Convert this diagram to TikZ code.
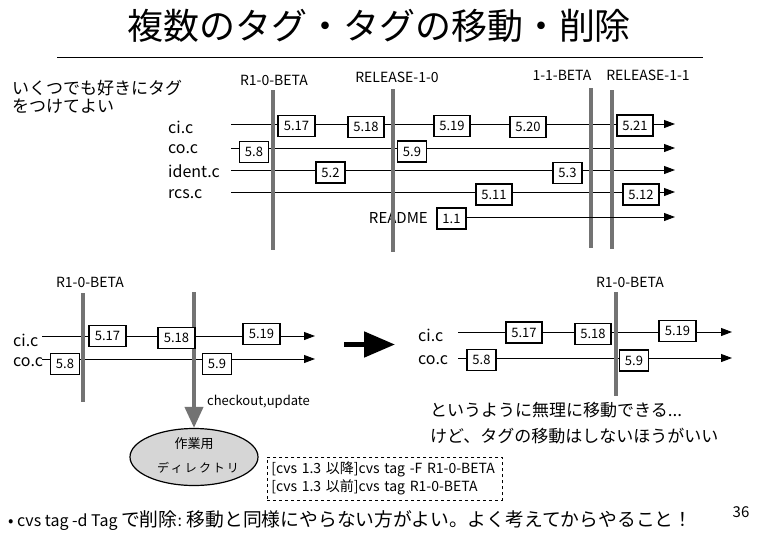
\documentclass[tikz,border=0pt]{standalone}
\usepackage{fontspec}
\setmainfont{Noto Sans CJK JP}
\usetikzlibrary{arrows.meta,shapes.geometric}
\tikzset{
  revbox/.style={draw,line width=1.8pt,fill=white,minimum height=21pt,inner xsep=5.5pt,inner ysep=0pt,font=\fontsize{13}{13}\selectfont},
  fileline/.style={line width=0.9pt,-{Triangle[length=11pt,width=8pt]}},
  tagbar/.style={line width=4pt,black!55},
  taglabel/.style={font=\fontsize{14}{14}\selectfont,inner sep=0pt},
  filelabel/.style={anchor=west,font=\fontsize{16}{16}\selectfont,inner sep=0pt},
  jptext/.style={anchor=west,font=\fontsize{17}{17}\selectfont,inner sep=0pt},
  every picture/.style={line join=miter}
}

\begin{document}
\begin{tikzpicture}[x=1pt,y=-1pt]
  \useasboundingbox (0,0) rectangle (758,536);
  % title
  \node[font=\fontsize{36}{36}\selectfont] (title) at (379,26) {複数のタグ・タグの移動・削除};
  \coordinate (rule-l) at (57,57);
  \coordinate (rule-r) at (703,57);
  \draw[line width=0.9pt] (rule-l) -- (rule-r);
  \node[anchor=west,align=left,inner sep=0pt,font=\fontsize{17}{17.5}\selectfont] (memo) at (12,97) {いくつでも好きにタグ\\をつけてよい};

  % --- top: several tags ---
  \node[filelabel] (tci) at (168,127) {ci.c};
  \node[filelabel] (tco) at (168,149) {co.c};
  \node[filelabel] (tid) at (168,171) {ident.c};
  \node[filelabel] (trcs) at (168,194) {rcs.c};
  \node[filelabel,anchor=east,font=\fontsize{15}{15}\selectfont] (tmd) at (428,218) {README};
  \foreach \f/\y in {ci/124,co/148,id/170,rcs/192}{
    \coordinate (t\f-s) at (231,\y);
    \coordinate (t\f-e) at (675,\y);
    \draw[fileline] (t\f-s) -- (t\f-e);
  }
  \coordinate (tmd-e) at (675,217);
  \node[taglabel] (tag1) at (274,80) {R1-0-BETA};
  \node[taglabel] (tag2) at (397,77) {RELEASE-1-0};
  \node[taglabel] (tag3) at (562,75) {1-1-BETA};
  \node[taglabel] (tag4) at (648,75) {RELEASE-1-1};
  \foreach \x/\a/\b in {273/90/250,393/89/252,591/88/248,612/90/249}
    \draw[tagbar] (\x,\a) -- (\x,\b);
  \node[revbox] (r517) at (296.5,126) {5.17};
  \node[revbox] (r518) at (366,127) {5.18};
  \node[revbox] (r519) at (452,126) {5.19};
  \node[revbox] (r520) at (528,127) {5.20};
  \node[revbox] (r521) at (635,125.5) {5.21};
  \node[revbox] (c58) at (254,152) {5.8};
  \node[revbox] (c59) at (412,151.5) {5.9};
  \node[revbox] (i52) at (330.5,172.5) {5.2};
  \node[revbox] (i53) at (567.5,173) {5.3};
  \node[revbox] (s511) at (494,194.5) {5.11};
  \node[revbox] (s512) at (641,194.5) {5.12};
  \node[revbox] (m11) at (451.5,218.5) {1.1};
  \draw[fileline] (m11.east |- tmd-e) -- (tmd-e);

  % --- bottom left: moving a tag ---
  \node[taglabel] (ltag) at (90,282) {R1-0-BETA};
  \node[filelabel] (lci) at (13,340) {ci.c};
  \node[filelabel] (lco) at (13,362) {co.c};
  \coordinate (lci-s) at (42,336);
  \coordinate (lci-e) at (315,336);
  \coordinate (lco-s) at (42,359);
  \coordinate (lco-e) at (315,359);
  \draw[fileline] (lci-s) -- (lci-e);
  \draw[fileline] (lco-s) -- (lco-e);
  \node[ellipse,draw,line width=1.2pt,fill=black!16,minimum width=128pt,minimum height=57pt,inner sep=0pt] (wdir) at (194,457) {};
  \node[font=\fontsize{13}{13}\selectfont,inner sep=0pt] (wdir1) at (194,444) {作業用};
  \node[font=\fontsize{12}{12}\selectfont,inner sep=0pt] (wdir2) at (198,468) {デ\,ィ\,レ\,ク\,ト\,リ};
  \coordinate (lbar-t) at (83,293);
  \coordinate (lbar-b) at (83,402);
  \coordinate (mbar-t) at (194,292);
  \draw[tagbar] (lbar-t) -- (lbar-b);
  \draw[tagbar,-{Triangle[length=21pt,width=18pt]}] (mbar-t) -- (wdir.north);
  \node[anchor=west,font=\fontsize{13}{13}\selectfont,inner sep=0pt] (chk) at (207,402) {checkout,update};
  \node[revbox] (l517) at (107.5,336) {5.17};
  \node[revbox] (l518) at (176.5,338) {5.18};
  \node[revbox] (l519) at (261.5,334) {5.19};
  \node[revbox] (l58) at (65,364) {5.8};
  \node[revbox] (l59) at (217,364) {5.9};
  \node[draw,dashed,line width=0.7pt,anchor=north west,text width=227pt,minimum height=43pt,align=left,inner xsep=4pt,font=\fontsize{14}{18}\selectfont] (cmd) at (267,457) {[cvs 1.3 以降]cvs tag -F R1-0-BETA\\{}[cvs 1.3 以前]cvs tag R1-0-BETA};

  % big arrow
  \coordinate (go-s) at (344,344.5);
  \coordinate (go-e) at (395,344.5);
  \draw[line width=5pt,-{Triangle[length=31pt,width=25pt]}] (go-s) -- (go-e);

  % --- bottom right: result ---
  \node[taglabel] (rtag) at (630,282) {R1-0-BETA};
  \node[filelabel] (rci) at (418,335) {ci.c};
  \node[filelabel] (rco) at (418,360) {co.c};
  \coordinate (rci-s) at (458,332);
  \coordinate (rci-e) at (732,332);
  \coordinate (rco-s) at (458,358);
  \coordinate (rco-e) at (732,358);
  \draw[fileline] (rci-s) -- (rci-e);
  \draw[fileline] (rco-s) -- (rco-e);
  \coordinate (rbar-t) at (616,292);
  \coordinate (rbar-b) at (616,396);
  \draw[tagbar] (rbar-t) -- (rbar-b);
  \node[revbox] (q517) at (524,332.5) {5.17};
  \node[revbox] (q518) at (593,334) {5.18};
  \node[revbox] (q519) at (677.5,331) {5.19};
  \node[revbox] (q58) at (481.5,360) {5.8};
  \node[revbox] (q59) at (634,360.5) {5.9};
  \node[jptext] (note1) at (430,410) {というように無理に移動できる...};
  \node[jptext] (note2) at (430,436) {けど、タグの移動はしないほうがいい};

  % footer
  \node[jptext,font=\fontsize{18.8}{18.8}\selectfont] (del) at (8,521) {{\fontsize{16}{16}\selectfont • cvs tag -d Tag }で削除{\fontsize{16}{16}\selectfont: }移動と同様にやらない方がよい。よく考えてからやること！};
  \node[font=\fontsize{15}{15}\selectfont,inner sep=0pt] (pg) at (741,512) {36};
\end{tikzpicture}
\end{document}
